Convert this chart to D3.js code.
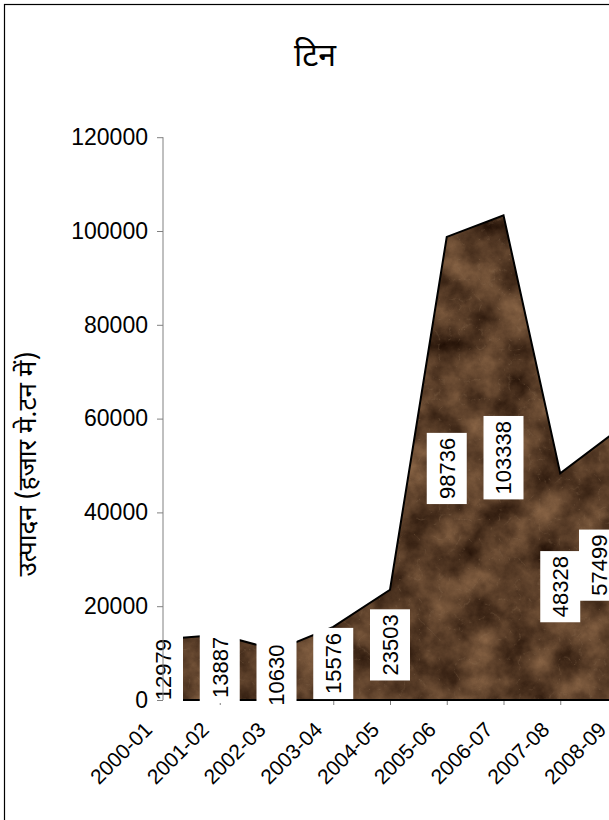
<!DOCTYPE html>
<html>
<head>
<meta charset="utf-8">
<script src="https://cdn.jsdelivr.net/npm/d3@7"></script>
<style>
  html, body { margin: 0; padding: 0; background: #fff; }
  svg { display: block; }
  text { font-family: "Liberation Sans", Arial, sans-serif; }
  .deva { font-family: "Noto Sans Devanagari", "Lohit Devanagari", "Mangal", "Noto Sans", "FreeSans", sans-serif; }
</style>
</head>
<body>
<script>
// ---- data ----
const title = "टिन";
const yAxisTitle = "उत्पादन (हजार मे.टन में)";
const categories = ["2000-01","2001-02","2002-03","2003-04","2004-05","2005-06","2006-07","2007-08","2008-09"];
const values = [12979, 13887, 10630, 15576, 23503, 98736, 103338, 48328, 57499];
const yTicks = [0, 20000, 40000, 60000, 80000, 100000, 120000];

const W = 609, H = 820;
const svg = d3.select("body").append("svg").attr("width", W).attr("height", H);
const defs = svg.append("defs");

// marble-like brown texture via turbulence
const filt = defs.append("filter").attr("id", "marble")
  .attr("x", 0).attr("y", 0).attr("width", "100%").attr("height", "100%")
  .attr("filterUnits", "userSpaceOnUse")
  .attr("color-interpolation-filters", "sRGB");
filt.append("feTurbulence").attr("type", "fractalNoise").attr("baseFrequency", "0.028")
  .attr("numOctaves", 6).attr("seed", 7).attr("result", "n1");
filt.append("feColorMatrix").attr("in", "n1").attr("type", "matrix")
  .attr("values", "0.55 0 0 0 0.08  0.45 0 0 0 0.02  0.34 0 0 0 -0.01  0 0 0 0 1")
  .attr("result", "base");
filt.append("feTurbulence").attr("type", "turbulence").attr("baseFrequency", "0.05")
  .attr("numOctaves", 4).attr("seed", 3).attr("result", "n2");
filt.append("feColorMatrix").attr("in", "n2").attr("type", "matrix")
  .attr("values", "0 0 0 0 0.56  0 0 0 0 0.45  0 0 0 0 0.34  -2.2 0 0 0 0.3")
  .attr("result", "veins");
filt.append("feComposite").attr("in", "veins").attr("in2", "base").attr("operator", "over");

// chart border
svg.append("rect").attr("x", 4.5).attr("y", 4.5).attr("width", 618).attr("height", 830)
  .attr("fill", "none").attr("stroke", "#000").attr("stroke-width", 1.2);

const x = d3.scalePoint().domain(categories).range([163, 617]);
const y = d3.scaleLinear().domain([0, 120000]).range([700, 137.2]);

// title
svg.append("text").attr("class", "deva").attr("x", 315).attr("y", 66)
  .attr("text-anchor", "middle").attr("font-size", 32).attr("fill", "#000").text(title);

// y axis title
svg.append("text").attr("class", "deva")
  .attr("transform", "translate(36,464) rotate(-90)")
  .attr("text-anchor", "middle").attr("font-size", 26).attr("fill", "#000").text(yAxisTitle);

// area
const area = d3.area().x((d, i) => x(categories[i])).y0(y(0)).y1(d => y(d));
const pathD = area(values);
defs.append("clipPath").attr("id", "areaClip").append("path").attr("d", pathD);

// x axis (under area)
const xAxis = svg.append("g").attr("transform", `translate(0,${y(0)})`)
  .call(d3.axisBottom(x).tickSize(5).tickSizeOuter(0));
xAxis.select(".domain").attr("stroke", "#808080");
xAxis.selectAll(".tick line").attr("stroke", "#808080");
xAxis.selectAll(".tick text")
  .attr("x", 0).attr("y", 0).attr("dy", 0)
  .attr("transform", "translate(-10,31) rotate(-45)")
  .attr("text-anchor", "end").attr("font-size", 21).attr("fill", "#000")
  .style("font-family", "'Liberation Sans', Arial, sans-serif");

svg.append("g").attr("clip-path", "url(#areaClip)")
  .append("rect").attr("x", 150).attr("y", 130).attr("width", 480).attr("height", 580)
  .attr("filter", "url(#marble)");
svg.append("path").attr("d", pathD).attr("fill", "none")
  .attr("stroke", "#000").attr("stroke-width", 2).attr("stroke-linejoin", "miter");

// y axis
const yAxis = svg.append("g").attr("transform", "translate(163,0)")
  .call(d3.axisLeft(y).tickValues(yTicks).tickSize(6).tickPadding(9).tickFormat(d3.format("d")));
yAxis.select(".domain").attr("stroke", "#808080").attr("d", `M0,${y(120000)}V${y(0)}`);
yAxis.selectAll(".tick line").attr("stroke", "#808080");
yAxis.selectAll(".tick text").attr("font-size", 23).attr("fill", "#000")
  .style("font-family", "'Liberation Sans', Arial, sans-serif");

// data labels in white boxes
const chartRight = 619;
const lbl = svg.append("g");
values.forEach((v, i) => {
  const cx = Math.min(x(categories[i]), chartRight - 20);
  const cy = (y(0) + y(v)) / 2;
  const g = lbl.append("g").attr("transform", `translate(${cx},${cy}) rotate(-90)`);
  const r = g.append("rect").attr("fill", "#fff");
  const t = g.append("text").attr("text-anchor", "middle").attr("dy", "0.36em")
    .attr("font-size", 22).attr("fill", "#000").text(v);
  const len = t.node().getComputedTextLength();
  r.attr("x", -len / 2 - 5).attr("y", -20).attr("width", len + 10).attr("height", 40);
});

// y tick labels drawn above the label boxes (as in the reference)
yAxis.raise();
yAxis.select(".domain").lower();
</script>
</body>
</html>
